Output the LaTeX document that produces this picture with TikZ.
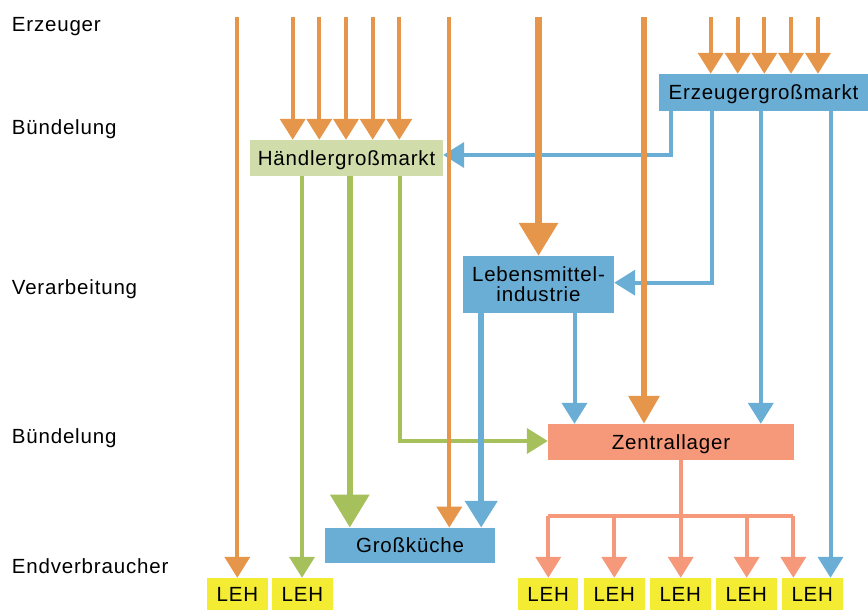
\documentclass[tikz,border=0pt]{standalone}
\usepackage{fontspec}
\setmainfont{Liberation Sans}[LetterSpace=4]
\usetikzlibrary{arrows.meta,calc}

\definecolor{cOrange}{RGB}{229,150,74}
\definecolor{cBlue}{RGB}{106,174,214}
\definecolor{cGreen}{RGB}{166,192,92}
\definecolor{cGreenBox}{RGB}{208,220,170}
\definecolor{cSalmon}{RGB}{246,152,122}
\definecolor{cYellow}{RGB}{243,236,50}

\begin{document}
\begin{tikzpicture}[x=1pt,y=-1pt,
  txt/.style={font=\fontsize{20.5}{18.4}\selectfont, inner sep=0pt, text=black},
  boxbase/.style={txt, rectangle, draw=none, align=center},
  box/.style={boxbase, text height=14.7pt, text depth=0pt},
  lehbox/.style={box, fill=cYellow, minimum width=60.5pt, minimum height=32pt},
  stage/.style={txt, anchor=base west},
  oLine/.style={color=cOrange, line width=4pt},
  bLine/.style={color=cBlue, line width=4pt},
  gLine/.style={color=cGreen, line width=4pt},
  sLine/.style={color=cSalmon, line width=4pt},
  lnMid/.style={line width=5.5pt},
  lnHeavy/.style={line width=6.5pt},
  tipS/.style={-{Triangle[width=25pt,length=21pt]}},
  tipM/.style={-{Triangle[width=30pt,length=28pt]}},
  tipK/.style={-{Triangle[width=31.7pt,length=26.7pt]}},
  tipL/.style={-{Triangle[width=38pt,length=33pt]}},
]
\useasboundingbox (0,0) rectangle (868,610);

% stage labels on the left
\node[stage] (s1) at (11.7,31.7) {Erzeuger};
\node[stage] (s2) at (11.7,135) {Bündelung};
\node[stage] (s3) at (11.7,294) {Verarbeitung};
\node[stage] (s4) at (11.7,443.5) {Bündelung};
\node[stage] (s5) at (11.7,573) {Endverbraucher};

% boxes
\node[box, fill=cGreenBox, minimum width=193pt, minimum height=36pt] (H) at (346.5,158) {Händlergroßmarkt};
\node[box, fill=cBlue, minimum width=209pt, minimum height=37pt] (E) at (763.5,92.5) {Erzeugergroßmarkt};
\node[boxbase, fill=cBlue, minimum width=151pt, minimum height=57pt,
      font=\fontsize{20.5}{20}\selectfont] (LMI) at (538.5,284.5) {Lebensmittel-\\industrie};
\node[box, fill=cSalmon, minimum width=246pt, minimum height=36pt] (Z) at (671,442) {Zentrallager};
\node[box, fill=cBlue, minimum width=170pt, minimum height=35.5pt] (G) at (410,545.5) {Großküche};
\foreach \i/\x in {1/237.5,2/302.5,3/548.2,4/614.3,5/680.3,6/746.3,7/812.3}
  \node[lehbox] (leh\i) at (\x,594) {LEH};

% connector start points
\coordinate (eb1) at ([xshift=11.7pt]E.south west);
\coordinate (eb2) at ([xshift=52.7pt]E.south west);
\coordinate (eb3) at ([xshift=102pt]E.south west);
\coordinate (eb4) at ([xshift=171.7pt]E.south west);
\coordinate (hg1) at ([xshift=52.2pt]H.south west);
\coordinate (hg2) at ([xshift=100pt]H.south west);
\coordinate (hg3) at ([xshift=149.8pt]H.south west);
\coordinate (lb1) at ([xshift=18.4pt]LMI.south west);
\coordinate (lb2) at ([xshift=111.7pt]LMI.south west);
\coordinate (zs) at ([xshift=133pt]Z.south west);

% elbow connectors (drawn first, the straight flows cross over them)
\draw[bLine, tipS] (eb1) |- ([yshift=3pt]H.east);
\draw[bLine, tipS] (eb2) |- ([yshift=1.8pt]LMI.east);
\draw[gLine, tipS] (hg3) |- ([yshift=1pt]Z.west);

% producers
\coordinate (o1) at (237.3,17);
\coordinate (o2) at (449.3,17);
\coordinate (o3) at (538.5,17);
\coordinate (o4) at (644,17);
\draw[oLine, tipS] (o1) -- (o1 |- leh1.north);
\draw[oLine, tipS] (o2) -- (o2 |- G.north);
\draw[oLine, lnHeavy, tipL] (o3) -- (LMI.north);
\draw[oLine, lnHeavy, tipM] (o4) -- (o4 |- Z.north);
\foreach \i/\x in {1/292.7,2/319.3,3/346,4/372.7,5/399.3}{
  \coordinate (oh\i) at (\x,17);
  \draw[oLine, tipS] (oh\i) -- (oh\i |- H.north);
}
\foreach \i/\x in {1/710.7,2/737.7,3/764.3,4/791,5/818}{
  \coordinate (oe\i) at (\x,17);
  \draw[oLine, tipS] (oe\i) -- (oe\i |- E.north);
}

% from the Erzeugergroßmarkt
\draw[bLine, tipS] (eb3) -- (eb3 |- Z.north);
\draw[bLine, tipS] (eb4) -- (eb4 |- leh7.north);

% from the Lebensmittelindustrie
\draw[bLine, lnMid, tipK] (lb1) -- (lb1 |- G.north);
\draw[bLine, tipS] (lb2) -- (lb2 |- Z.north);

% from the Händlergroßmarkt
\draw[gLine, tipS] (hg1) -- (hg1 |- leh2.north);
\draw[gLine, lnHeavy, tipL] (hg2) -- (hg2 |- G.north);

% distribution from the Zentrallager
\coordinate (barL) at (548.3,515.7);
\coordinate (barR) at (793.3,515.7);
\draw[sLine, line cap=square] (barL) -- (barR);
\draw[sLine] (zs) -- (zs |- barL);
\foreach \i/\x in {3/548.3,4/614.3,5/680.7,6/746.7,7/793.3}{
  \coordinate (sb\i) at (\x,515.7);
  \draw[sLine, tipS] (sb\i) -- (sb\i |- leh\i.north);
}
\end{tikzpicture}
\end{document}
